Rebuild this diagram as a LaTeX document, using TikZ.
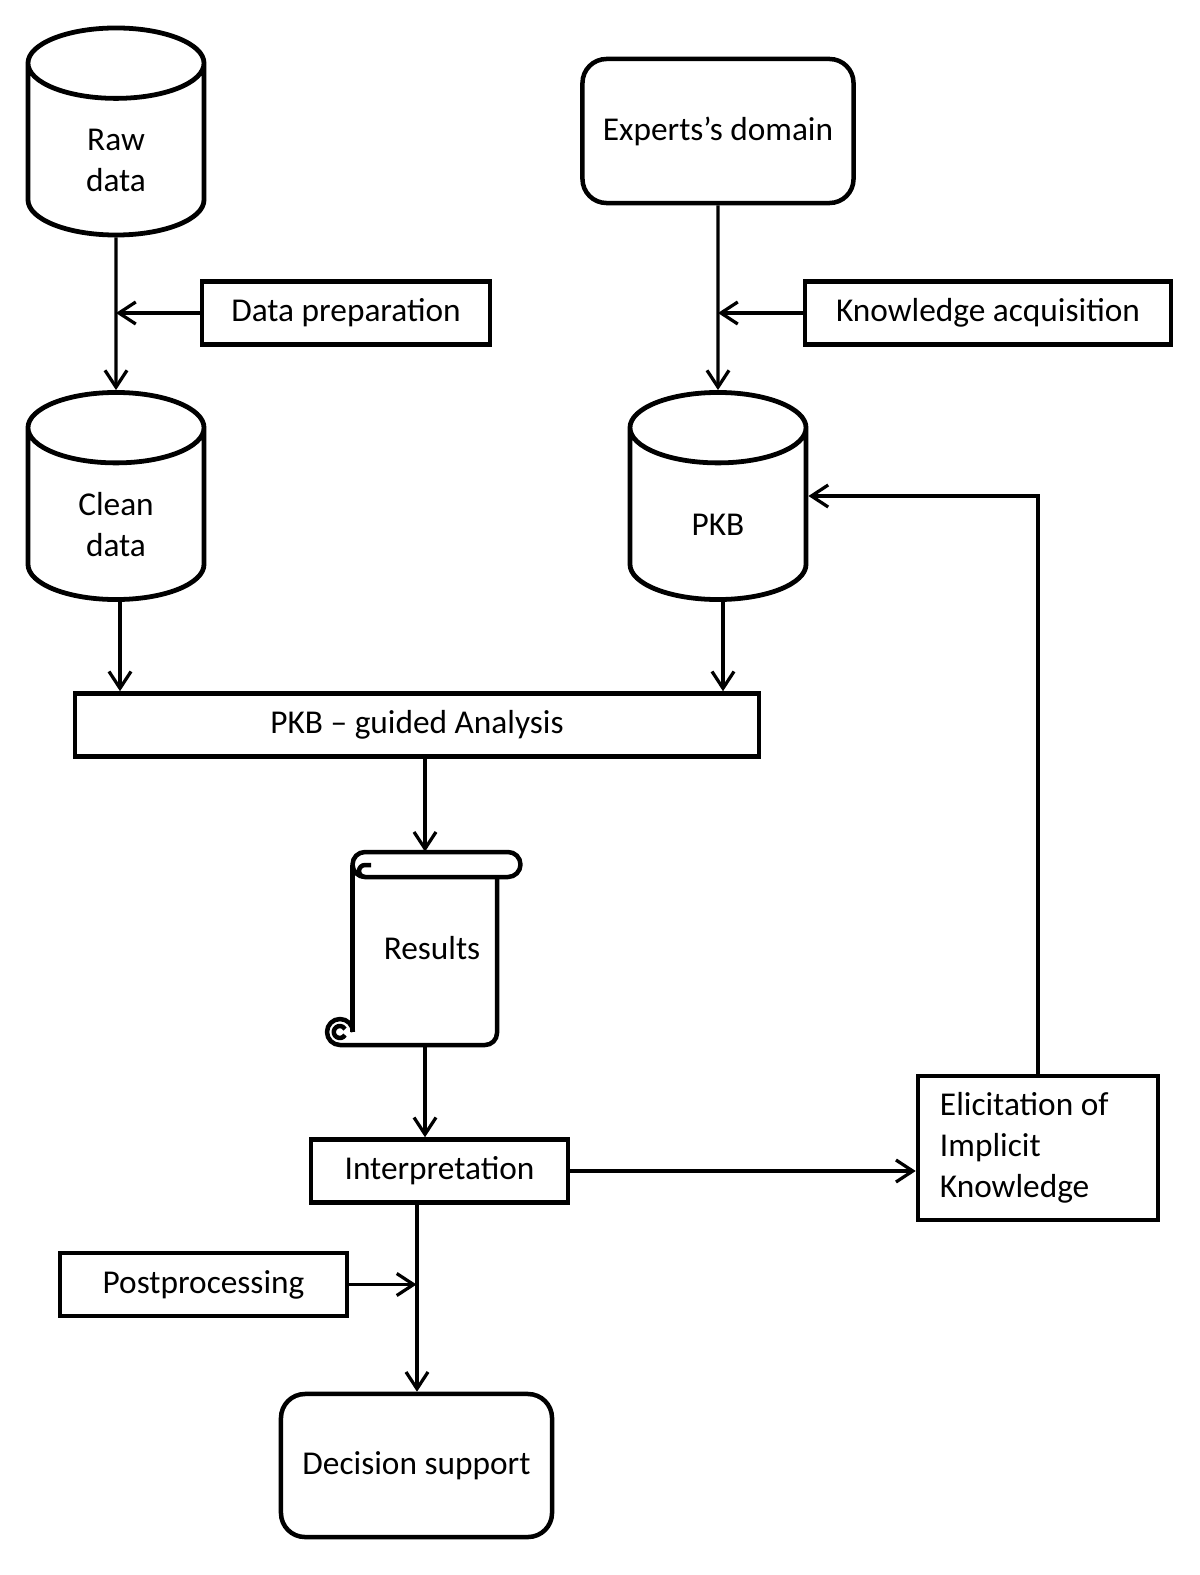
\documentclass[tikz,border=0pt]{standalone}
\usepackage{fontspec}
\setmainfont{Carlito}
\usetikzlibrary{positioning}
\usetikzlibrary{arrows.meta}
\usetikzlibrary{shapes.geometric}

\begin{document}
\begin{tikzpicture}[x=0.025cm, y=-0.025cm, font=\fontsize{23.7}{29}\selectfont,
    box/.style={draw, line width=3.2pt, align=center, inner sep=0pt},
    db/.style={draw, line width=3.4pt, shape=cylinder, shape border rotate=90, aspect=0.4,
      text width=4.4cm, text height=1.05cm, inner sep=0pt, minimum height=5.175cm, align=center,
      anchor=shape center},
    conn/.style={line width=2.3pt, -{Straight Barb[length=0.42cm, width=0.55cm]}}]

  \useasboundingbox (0,0) rectangle (1200,1575);

  % stores
  \node[db] (raw) at (116,131.5) {Raw\\data};
  \node[db] (clean) at (116,496) {Clean\\data};
  \node[db] (pkb) at (718,496) {PKB};

  % steps
  \node[box, minimum width=7.2cm, minimum height=1.575cm] (prep) at (346,313) {Data preparation};
  \node[box, rounded corners=0.6cm, minimum width=6.775cm, minimum height=3.6cm] (expert) at (718,131) {Experts’s domain};
  \node[box, minimum width=9.15cm, minimum height=1.575cm] (acq) at (988,313) {Knowledge acquisition};
  \node[box, minimum width=17.1cm, minimum height=1.575cm] (ana) at (417,725) {PKB – guided Analysis};
  \node[minimum width=4.4cm, minimum height=4.825cm, inner sep=0pt] (res) at (432,948.5) {Results};
  \node[box, minimum width=6.425cm, minimum height=1.575cm] (int) at (439.5,1171) {Interpretation};
  \node[box, align=flush left, text width=4.9cm, minimum width=6cm, minimum height=3.6cm] (eli) at (1038,1148) {Elicitation of\\Implicit\\Knowledge};
  \node[box, minimum width=7.175cm, minimum height=1.575cm] (post) at (203.5,1284.5) {Postprocessing};
  \node[box, rounded corners=0.6cm, minimum width=6.775cm, minimum height=3.575cm] (dec) at (416.5,1465.5) {Decision support};

  % scroll outline of the results
  \begin{scope}[line width=3.2pt, line join=round]
    \draw (365,852) -- (508,852) arc[start angle=-90, end angle=90, radius=12.5]
      -- (365,877) arc[start angle=90, end angle=270, radius=12.5] -- cycle;
    \draw (365,877) arc[start angle=90, end angle=270, radius=6] -- (371,865);
    \draw (352.5,864.5) -- (352.5,1032);
    \draw (497,877) -- (497,1033) arc[start angle=0, end angle=90, radius=12] -- (340,1045)
      arc[start angle=90, end angle=360, radius=13];
    \draw (345,1035) arc[start angle=30, end angle=330, radius=6];
  \end{scope}

  % connectors
  \draw[conn] (raw) -- (clean);
  \draw[conn] (prep.west) -- (prep.west -| raw);
  \draw[conn] (expert) -- (pkb);
  \draw[conn] (acq.west) -- (acq.west -| pkb);
  \draw[conn] (120,0 |- clean.south) -- (120,0 |- ana.north);
  \draw[conn] (723,0 |- pkb.south) -- (723,0 |- ana.north);
  \draw[conn] (425,0 |- ana.south) -- (425,0 |- res.north);
  \draw[conn] (425,0 |- res.south) -- (425,0 |- int.north);
  \draw[conn] (int.east) -- (int.east -| eli.west);
  \draw[conn] (eli.north) |- (pkb.east |- pkb.shape center);
  \draw[conn] (417,0 |- int.south) -- (417,0 |- dec.north);
  \draw[conn] (post.east) -- (post.east -| dec);

\end{tikzpicture}
\end{document}
